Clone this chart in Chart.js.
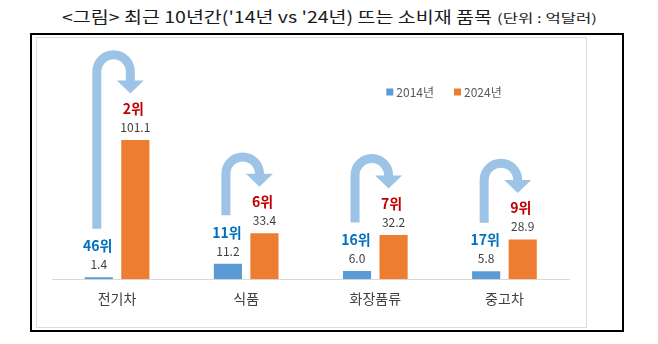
<!DOCTYPE html>
<html><head><meta charset="utf-8">
<script src="https://cdn.jsdelivr.net/npm/chart.js@4.4.1/dist/chart.umd.min.js"></script>
<style>
html,body{margin:0;padding:0;background:#fff;width:658px;height:344px;overflow:hidden;font-family:"Noto Sans CJK KR","Noto Sans",sans-serif;}
.t{position:absolute;white-space:nowrap;color:#1a1a1a;transform-origin:0 50%;line-height:20px;}
#tmain{left:62px;top:6px;font-size:16px;}
#tunit{left:497px;top:8px;font-size:12px;}
#frame{position:absolute;left:30px;top:33px;width:590px;height:295px;border:2px solid #000;}
#inner{position:absolute;left:36px;top:37px;width:549px;height:289px;border:1px solid #dcdcdc;}
canvas{position:absolute;left:0;top:0;}
</style></head>
<body>
<div id="tmain" class="t">&lt;그림&gt; 최근 10년간('14년 vs '24년) 뜨는 소비재 품목</div>
<div id="tunit" class="t">(단위 : 억달러)</div>
<div id="frame"></div>
<div id="inner"></div>
<canvas id="c" width="658" height="344"></canvas>
<script>
const categories = ['전기차', '식품', '화장품류', '중고차'];
const seriesLabels = ['2014년', '2024년'];
const values2014 = [1.4, 11.2, 6.0, 5.8];
const values2024 = [101.1, 33.4, 32.2, 28.9];
const rank2014 = [46, 11, 16, 17];
const rank2024 = [2, 6, 7, 9];

const FONT = '"Noto Sans CJK KR", "Noto Sans", sans-serif';
const BLUE = '#5b9bd5', ORANGE = '#ed7d31', ARROW = '#9dc3e6';

function fitTitle(id, target) {
  const el = document.getElementById(id);
  const w = el.getBoundingClientRect().width;
  el.style.transform = 'scaleX(' + (target / w) + ')';
}
fitTitle('tmain', 430);
fitTitle('tunit', 100);

const overlay = {
  id: 'overlay',
  afterDatasetsDraw(chart) {
    const ctx = chart.ctx;
    const m0 = chart.getDatasetMeta(0), m1 = chart.getDatasetMeta(1);
    ctx.save();
    categories.forEach((c, i) => {
      const b0 = m0.data[i], b1 = m1.data[i];
      const v0y = b0.y - 12.5, v1y = b1.y - 12.5;
      const r0y = v0y - 19, r1y = v1y - 19;
      // arrow
      const lx = b0.x - 2, rx = b1.x - 5;
      const rad = (rx - lx) / 2;
      const tip = r1y - 15;
      const headBase = tip - 13;
      const leg = values2024[i] > 60 ? 9 : 0;
      const cy = headBase - leg;
      const bottom = r0y - 17;
      ctx.strokeStyle = ARROW;
      ctx.lineWidth = 9;
      ctx.lineCap = 'butt';
      ctx.beginPath();
      ctx.moveTo(lx, bottom);
      ctx.lineTo(lx, cy);
      ctx.arc(lx + rad, cy, rad, Math.PI, 0, false);
      ctx.lineTo(rx, headBase + 0.5);
      ctx.stroke();
      ctx.fillStyle = ARROW;
      ctx.beginPath();
      ctx.moveTo(rx - 13.5, headBase);
      ctx.lineTo(rx + 13.5, headBase);
      ctx.lineTo(rx, tip);
      ctx.closePath();
      ctx.fill();
      // value labels
      ctx.font = '12px ' + FONT;
      ctx.fillStyle = '#404040';
      ctx.textAlign = 'center';
      ctx.textBaseline = 'middle';
      ctx.fillText(values2014[i].toFixed(1), b0.x, v0y);
      ctx.fillText(values2024[i].toFixed(1), b1.x, v1y);
      // rank labels
      ctx.font = 'bold 14px ' + FONT;
      ctx.fillStyle = '#0070c0';
      ctx.fillText(rank2014[i] + '위', b0.x - 1, r0y);
      ctx.fillStyle = '#c00000';
      ctx.fillText(rank2024[i] + '위', b1.x - 2, r1y);
    });
    // legend
    ctx.font = '12px ' + FONT;
    ctx.textAlign = 'left';
    ctx.textBaseline = 'middle';
    const colors = [BLUE, ORANGE];
    const widths = seriesLabels.map(s => 7 + 3 + ctx.measureText(s).width);
    const gap = 20;
    const total = widths[0] + widths[1] + gap;
    let x = 444 - total / 2;
    const ly = 92;
    seriesLabels.forEach((s, k) => {
      ctx.fillStyle = colors[k];
      ctx.fillRect(x, ly - 3.5, 7, 7);
      ctx.fillStyle = '#595959';
      ctx.fillText(s, x + 10, ly + 0.5);
      x += widths[k] + gap;
    });
    ctx.restore();
  }
};

new Chart(document.getElementById('c'), {
  type: 'bar',
  data: {
    labels: categories,
    datasets: [
      { label: seriesLabels[0], data: values2014, backgroundColor: BLUE, categoryPercentage: 0.566, barPercentage: 0.77 },
      { label: seriesLabels[1], data: values2024, backgroundColor: ORANGE, categoryPercentage: 0.566, barPercentage: 0.77 }
    ]
  },
  options: {
    responsive: false,
    animation: false,
    layout: { padding: { left: 52.5, right: 89, top: 48, bottom: 26 } },
    plugins: { legend: { display: false }, tooltip: { enabled: false } },
    scales: {
      x: {
        grid: { display: false, drawTicks: false },
        border: { display: true, color: '#d9d9d9', width: 1 },
        ticks: { color: '#404040', font: { family: FONT, size: 14 }, padding: 11 }
      },
      y: { display: false, min: 0, max: 168 }
    }
  },
  plugins: [overlay]
});
</script>
</body></html>
